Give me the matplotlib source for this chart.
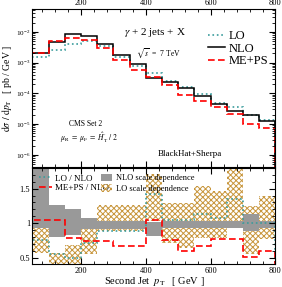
import numpy as np
import matplotlib.pyplot as plt
from matplotlib.ticker import MultipleLocator, LogLocator, NullFormatter, FixedLocator
from matplotlib.patches import Patch
from matplotlib.lines import Line2D

plt.rcParams['font.family'] = ['Liberation Serif', 'DejaVu Serif']
plt.rcParams['mathtext.fontset'] = 'stix'
plt.rcParams['hatch.linewidth'] = 0.7

# second jet pT bins [GeV]
edges = np.arange(50, 801, 50)

# dsigma/dpT [pb/GeV]
nlo = np.array([2.0e-3, 4.7e-3, 8.2e-3, 7.3e-3, 3.9e-3, 1.75e-3, 8.7e-4, 3.2e-4,
                2.4e-4, 1.52e-4, 8.3e-5, 4.5e-5, 2.75e-5, 2.0e-5, 1.3e-5])
lo = np.array([1.52e-3, 2.59e-3, 4.02e-3, 5.18e-3, 3.47e-3, 1.56e-3, 7.74e-4, 4.54e-4,
               2.52e-4, 1.60e-4, 9.38e-5, 4.82e-5, 3.71e-5, 2.0e-5, 1.31e-5])
meps = np.array([2.08e-3, 4.89e-3, 6.48e-3, 5.40e-3, 2.89e-3, 1.17e-3, 5.83e-4, 3.33e-4,
                 1.80e-4, 8.97e-5, 5.56e-5, 3.47e-5, 2.12e-5, 1.02e-5, 7.67e-6])

# scale dependence bands, relative to NLO
nlo_band_hi = np.array([1.95, 1.27, 1.20, 1.07, 1.03, 1.03, 1.03, 1.02,
                        1.03, 1.03, 1.03, 1.03, 1.03, 1.13, 1.03])
nlo_band_lo = np.array([0.93, 0.80, 0.83, 0.91, 0.92, 0.92, 0.92, 0.82,
                        0.93, 0.93, 0.93, 0.93, 0.93, 0.88, 0.93])
lo_band_hi = np.array([0.93, 0.57, 0.68, 1.00, 1.26, 1.26, 1.26, 1.72,
                       1.29, 1.29, 1.54, 1.46, 1.95, 1.25, 1.40])
lo_band_lo = np.array([0.57, 0.39, 0.40, 0.55, 0.88, 0.88, 0.88, 1.03,
                       0.71, 0.64, 0.79, 0.79, 1.02, 0.55, 0.77])

teal = '#3a9c9c'
hatch_col = '#c8963c'
gray = '#999999'

fig = plt.figure(figsize=(2.82, 2.87), dpi=100)
ax = fig.add_axes([0.1145, 0.418, 0.8624, 0.5505])
axr = fig.add_axes([0.1145, 0.0784, 0.8624, 0.3362])

# top panel
ax.stairs(lo, edges, baseline=1e-9, color=teal, lw=1.2, ls=':')
ax.stairs(nlo, edges, baseline=1e-9, color='black', lw=1.1)
ax.stairs(meps, edges, baseline=1e-9, color='red', lw=1.2, ls=(0, (4, 2)))
ax.set_yscale('log')
ax.set_xlim(50, 800)
ax.set_ylim(4e-7, 5.5e-2)
ax.set_ylabel(r'$\mathrm{d}\sigma\ /\ \mathrm{d}p_{\rm T}$   [ pb / GeV ]', fontsize=7, labelpad=1)
ax.xaxis.set_major_locator(MultipleLocator(200))
ax.xaxis.set_minor_locator(MultipleLocator(40))
ax.yaxis.set_major_locator(FixedLocator([1e-6, 1e-5, 1e-4, 1e-3, 1e-2]))
ax.yaxis.set_minor_locator(LogLocator(subs=np.arange(2, 10)))
ax.yaxis.set_minor_formatter(NullFormatter())
ax.tick_params(which='both', direction='in', top=True, right=True,
               labeltop=True, labelbottom=False, labelsize=6, pad=1.5)
ax.tick_params(axis='y', labelsize=5.2)
ax.tick_params(which='major', length=4)
ax.tick_params(which='minor', length=2)

ax.text(0.504, 0.854, r'$\gamma$ + 2 jets + X', transform=ax.transAxes,
        ha='center', va='center', fontsize=8)
ax.text(0.52, 0.72, r'$\sqrt{s}$  =  7 TeV', transform=ax.transAxes,
        ha='center', va='center', fontsize=5.5)
ax.text(0.221, 0.272, 'CMS Set 2', transform=ax.transAxes,
        ha='center', va='center', fontsize=5.5)
ax.text(0.234, 0.187, r"$\mu_{\rm R}\ =\ \mu_{\rm F}\ =\ \hat{H}_{\rm T}^{\prime}\ /\ 2$",
        transform=ax.transAxes, ha='center', va='center', fontsize=5.5)
ax.text(0.648, 0.082, 'BlackHat+Sherpa', transform=ax.transAxes,
        ha='center', va='center', fontsize=6.5)

h_top = [Line2D([], [], color=teal, lw=1.2, ls=':'),
         Line2D([], [], color='black', lw=1.1),
         Line2D([], [], color='red', lw=1.2, ls=(0, (4, 2)))]
ax.legend(h_top, ['LO', 'NLO', 'ME+PS'], loc='upper right', bbox_to_anchor=(1.0, 0.915),
          frameon=False, fontsize=9, handlelength=1.3, handletextpad=0.3,
          labelspacing=0.05, borderaxespad=0.2)

# ratio panel
axr.stairs(lo_band_hi, edges, baseline=lo_band_lo, fill=True, facecolor='none',
           edgecolor=hatch_col, hatch='xxxxxx', lw=0)
axr.stairs(nlo_band_hi, edges, baseline=nlo_band_lo, fill=True, color=gray, lw=0)
axr.stairs(lo / nlo, edges, color=teal, lw=1.2, ls=':')
axr.stairs(meps / nlo, edges, baseline=0, color='red', lw=1.2, ls=(0, (4, 2)))
axr.set_xlim(50, 800)
axr.set_ylim(0.4, 1.8)
axr.set_xlabel(r'Second Jet  $p_{\rm T}$   [ GeV ]', fontsize=7.5, labelpad=0)
axr.xaxis.set_major_locator(MultipleLocator(200))
axr.xaxis.set_minor_locator(MultipleLocator(40))
axr.yaxis.set_major_locator(FixedLocator([0.5, 1.0, 1.5]))
axr.yaxis.set_minor_locator(MultipleLocator(0.1))
axr.set_yticklabels(['0.5', '1', '1.5'])
axr.tick_params(which='both', direction='in', top=True, right=True, labelsize=6, pad=1.5)
axr.tick_params(which='major', length=4)
axr.tick_params(which='minor', length=2)

h_l = [Line2D([], [], color=teal, lw=1.2, ls=':'),
       Line2D([], [], color='red', lw=1.2, ls=(0, (4, 2)))]
leg1 = axr.legend(h_l, ['LO / NLO', 'ME+PS / NLO'], loc='upper left',
                  bbox_to_anchor=(0.0, 1.0), frameon=False, fontsize=6.5,
                  handlelength=1.5, handletextpad=0.3, labelspacing=0.1, borderaxespad=0.3)
axr.add_artist(leg1)
h_r = [Patch(facecolor=gray, edgecolor='none'),
       Patch(facecolor='none', edgecolor=hatch_col, hatch='xxxxxx', lw=0)]
axr.legend(h_r, ['NLO scale dependence', 'LO scale dependence'], loc='upper left',
           bbox_to_anchor=(0.26, 1.0), frameon=False, fontsize=6,
           handlelength=1.3, handleheight=1.0, handletextpad=0.4, labelspacing=0.2,
           borderaxespad=0.3)

fig.savefig('out.png', dpi=100)
